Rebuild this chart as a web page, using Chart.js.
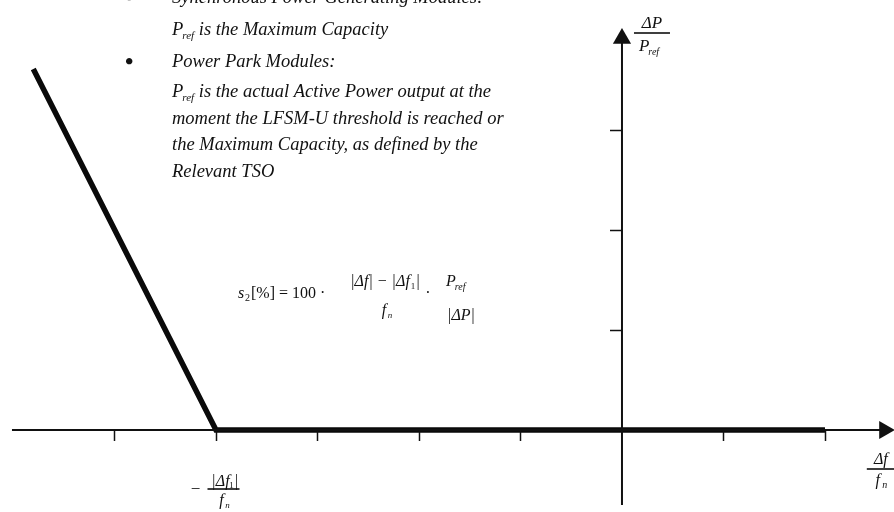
<!DOCTYPE html>
<html>
<head>
<meta charset="utf-8">
<script src="https://cdn.jsdelivr.net/npm/chart.js@4"></script>
<style>
  html, body { margin: 0; padding: 0; background: #fff; }
  #chart { display: block; }
</style>
</head>
<body>
<canvas id="chart" width="894" height="512"></canvas>
<script>
// characteristic (x = Δf/fn, y = ΔP/Pref), arbitrary units
const curveX = [-5.8, -4, 2];
const curveY = [3.61, 0, 0];

// axis lines
const axisX = [-6.01, 2.586];
const axisY = [-0.75, 3.915];

// tick positions
const xTicks = [-5, -4, -3, -2, -1, 1, 2];
const yTicks = [1, 2, 3];
const markedTick = -4;

const textLines = [
  { bullet: true, pref: false, text: 'Synchronous Power Generating Modules:' },
  { bullet: false, pref: true, text: ' is the Maximum Capacity' },
  { bullet: true, pref: false, text: 'Power Park Modules:' },
  { bullet: false, pref: true, text: ' is the actual Active Power output at the' },
  { bullet: false, pref: false, text: 'moment the LFSM-U threshold is reached or' },
  { bullet: false, pref: false, text: 'the Maximum Capacity, as defined by the' },
  { bullet: false, pref: false, text: 'Relevant TSO' }
];
const textBaselines = [3, 35, 67, 97, 124, 150, 177];

const SERIF = '"Liberation Serif", "DejaVu Serif", serif';

function pts(xs, ys) {
  return xs.map((x, i) => ({ x, y: ys[i] }));
}

// draws "P" with an italic "ref" subscript, returns the width used
function drawPref(ctx, x, y, size) {
  ctx.font = 'italic ' + size + 'px ' + SERIF;
  ctx.fillText('P', x, y);
  const w = ctx.measureText('P').width;
  ctx.font = 'italic ' + Math.round(size * 0.6) + 'px ' + SERIF;
  ctx.fillText('ref', x + w - 1, y + size * 0.22);
  return w - 1 + ctx.measureText('ref').width;
}

function fraction(ctx, cx, barY, barW, top, bottom) {
  ctx.fillRect(cx - barW / 2, barY - 0.8, barW, 1.6);
  top(cx, barY - 5);
  bottom(cx, barY + 15);
}

const decorPlugin = {
  id: 'decor',
  afterDatasetsDraw(chart) {
    const ctx = chart.ctx;
    const xs = chart.scales.x, ys = chart.scales.y;
    const x0 = xs.getPixelForValue(0), y0 = ys.getPixelForValue(0);
    ctx.save();
    ctx.fillStyle = '#111';
    ctx.strokeStyle = '#111';

    // tick marks
    ctx.lineWidth = 1.5;
    xTicks.forEach(v => {
      const px = Math.round(xs.getPixelForValue(v)) + 0.5;
      ctx.beginPath(); ctx.moveTo(px, y0); ctx.lineTo(px, y0 + 11); ctx.stroke();
    });
    yTicks.forEach(v => {
      const py = Math.round(ys.getPixelForValue(v)) + 0.5;
      ctx.beginPath(); ctx.moveTo(x0 - 12, py); ctx.lineTo(x0, py); ctx.stroke();
    });

    ctx.textAlign = 'left';
    ctx.textBaseline = 'alphabetic';

    // text block
    textLines.forEach((ln, i) => {
      const y = textBaselines[i];
      let x = 172;
      if (ln.bullet) {
        ctx.font = 'bold 24px ' + SERIF;
        ctx.fillText('\u2022', 125, y + 2);
      }
      if (ln.pref) x += drawPref(ctx, x, y, 18.5);
      ctx.font = 'italic 18.5px ' + SERIF;
      ctx.fillText(ln.text, x, y);
    });

    // y-axis label  ΔP / Pref
    ctx.textAlign = 'center';
    fraction(ctx, x0 + 30, 33, 36,
      (cx, by) => { ctx.font = 'italic 17px ' + SERIF; ctx.fillText('\u0394P', cx, by); },
      (cx, by) => { ctx.textAlign = 'left'; drawPref(ctx, cx - 13, by + 3, 17); ctx.textAlign = 'center'; });

    // x-axis label  Δf / fn
    fraction(ctx, xs.getPixelForValue(2.55), 469, 28,
      (cx, by) => { ctx.font = 'italic 16px ' + SERIF; ctx.fillText('\u0394f', cx, by); },
      (cx, by) => {
        ctx.font = 'italic 16px ' + SERIF; ctx.fillText('f', cx - 3, by + 1);
        ctx.font = 'italic 10px ' + SERIF; ctx.fillText('n', cx + 4, by + 4);
      });

    // tick label  −|Δf1| / fn
    const tx = xs.getPixelForValue(markedTick) + 7.5;
    ctx.font = '17px ' + SERIF;
    ctx.fillText('\u2212', tx - 28, 494);
    fraction(ctx, tx, 489, 32,
      (cx, by) => {
        ctx.font = 'italic 16px ' + SERIF; ctx.fillText('|\u0394f', cx - 3, by + 2);
        ctx.font = '9px ' + SERIF; ctx.fillText('1', cx + 8, by + 4);
        ctx.font = '16px ' + SERIF; ctx.fillText('|', cx + 13, by + 2);
      },
      (cx, by) => {
        ctx.font = 'italic 16px ' + SERIF; ctx.fillText('f', cx - 2, by + 1);
        ctx.font = 'italic 9px ' + SERIF; ctx.fillText('n', cx + 4, by + 4);
      });

    // formula
    ctx.textAlign = 'left';
    const fy = 298;
    ctx.font = 'italic 16px ' + SERIF; ctx.fillText('s', 238, fy);
    ctx.font = '10px ' + SERIF; ctx.fillText('2', 245, fy + 3);
    ctx.font = '16px ' + SERIF; ctx.fillText('[%] = 100 \u00b7', 251, fy);
    ctx.textAlign = 'center';
    ctx.font = 'italic 16px ' + SERIF;
    ctx.fillText('|\u0394f| \u2212 |\u0394f', 380, fy - 12);
    ctx.font = '9px ' + SERIF; ctx.fillText('1', 413, fy - 9);
    ctx.font = '16px ' + SERIF; ctx.fillText('|', 418, fy - 12);
    ctx.font = 'italic 16px ' + SERIF; ctx.fillText('f', 384, fy + 17);
    ctx.font = 'italic 9px ' + SERIF; ctx.fillText('n', 390, fy + 20);
    ctx.font = '16px ' + SERIF; ctx.fillText('\u00b7', 428, fy);
    ctx.textAlign = 'left';
    drawPref(ctx, 446, fy - 12, 16);
    ctx.textAlign = 'center';
    ctx.font = 'italic 16px ' + SERIF; ctx.fillText('|\u0394P|', 461, fy + 22);

    ctx.restore();
  }
};

new Chart(document.getElementById('chart'), {
  type: 'scatter',
  data: {
    datasets: [
      {
        data: pts(axisX, [0, 0]),
        showLine: true, borderColor: '#111', borderWidth: 2,
        pointRadius: [0, 10.5], pointStyle: 'triangle', pointRotation: 90,
        backgroundColor: '#111', pointBorderWidth: 0
      },
      {
        data: pts([0, 0], axisY),
        showLine: true, borderColor: '#111', borderWidth: 2,
        pointRadius: [0, 10.5], pointStyle: 'triangle', pointRotation: 0,
        backgroundColor: '#111', pointBorderWidth: 0
      },
      {
        data: pts(curveX, curveY),
        showLine: true, borderColor: '#0a0a0a', borderWidth: 5.5,
        pointRadius: 0, borderJoinStyle: 'miter'
      }
    ]
  },
  options: {
    responsive: false,
    animation: false,
    layout: { padding: 0, autoPadding: false },
    plugins: { legend: { display: false }, tooltip: { enabled: false } },
    scales: {
      x: { type: 'linear', display: false, min: -6.128, max: 2.68 },
      y: { type: 'linear', display: false, min: -0.82, max: 4.3 }
    }
  },
  plugins: [decorPlugin]
});
</script>
</body>
</html>
